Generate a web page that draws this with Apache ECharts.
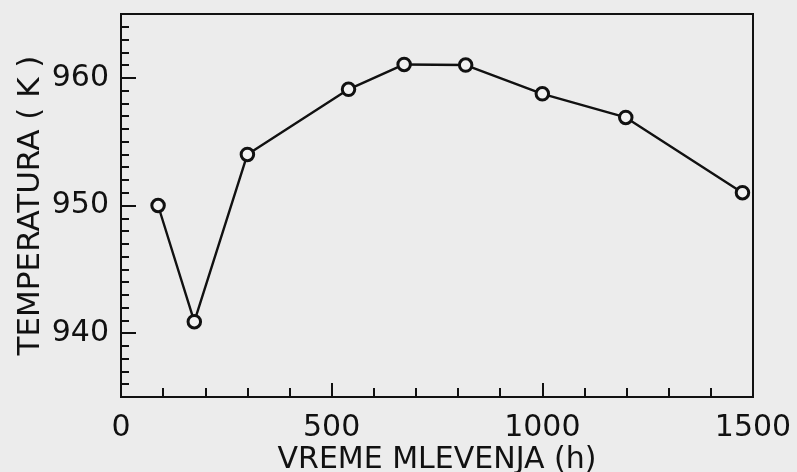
<!DOCTYPE html>
<html>
<head>
<meta charset="utf-8">
<script src="https://cdn.jsdelivr.net/npm/echarts@6/dist/echarts.min.js"></script>
<style>
  html, body { margin: 0; padding: 0; background: #ececec; }
  #chart { width: 797px; height: 472px; }
</style>
</head>
<body>
<div id="chart"></div>
<script>
// Milling time (h) and temperature (K)
const hours = [88, 174, 300, 540, 672, 818, 1000, 1198, 1475];
const temps = [950.0, 940.9, 954.0, 959.1, 961.05, 961.0, 958.75, 956.9, 951.0];
const yLabelValues = [940, 950, 960];
const xLabelValues = [0, 500, 1000, 1500];

const ink = '#111111';
const font = 'DejaVu Sans';

const points = hours.map((h, i) => [h, temps[i]]);
const plain = v => String(v);

const gridLeft = 121, gridRight = 44, chartWidth = 797;
const plotWidth = chartWidth - gridLeft - gridRight;

const chart = echarts.init(document.getElementById('chart'), null, { renderer: 'canvas' });
chart.setOption({
  backgroundColor: '#ececec',
  animation: false,
  grid: {
    left: gridLeft, right: gridRight, top: 14, bottom: 75,
    outerBoundsMode: 'none',
    show: true, borderColor: ink, borderWidth: 2, backgroundColor: 'transparent'
  },
  xAxis: {
    type: 'value',
    min: 0, max: 1500, interval: 500,
    name: 'VREME MLEVENJA (h)',
    nameLocation: 'middle',
    nameMoveOverlap: false,
    nameGap: 48,
    nameTextStyle: { fontFamily: font, fontSize: 30, color: ink },
    axisLine: { show: true, lineStyle: { color: ink, width: 2 } },
    axisTick: { show: true, inside: true, length: 14, lineStyle: { color: ink, width: 2 } },
    minorTick: { show: true, splitNumber: 5, length: 9, lineStyle: { color: ink, width: 2 } },
    axisLabel: { customValues: xLabelValues, formatter: plain, fontFamily: font, fontSize: 30, color: ink, margin: 16 },
    splitLine: { show: false }
  },
  yAxis: [
    {
      type: 'value',
      min: 935, max: 965, interval: 1,
      name: 'TEMPERATURA ( K )',
      nameLocation: 'middle',
      nameMoveOverlap: false,
      nameRotate: 90,
      nameGap: 75,
      nameTextStyle: { fontFamily: font, fontSize: 31, color: ink },
      axisLine: { show: true, lineStyle: { color: ink, width: 2 } },
      axisTick: { show: true, inside: true, length: 8, lineStyle: { color: ink, width: 2 } },
      axisLabel: { customValues: yLabelValues, formatter: plain, fontFamily: font, fontSize: 30, color: ink, margin: 12 },
      splitLine: { show: false }
    },
    {
      // longer ticks at the labelled temperatures: a right-hand axis shifted
      // onto the left edge, its outward ticks pointing into the plot
      type: 'value',
      position: 'right',
      offset: -plotWidth,
      min: 935, max: 965, interval: 1,
      axisLine: { show: false },
      axisTick: { show: true, inside: false, length: 15, customValues: yLabelValues, lineStyle: { color: ink, width: 2 } },
      axisLabel: { show: false },
      splitLine: { show: false }
    }
  ],
  series: [{
    type: 'line',
    data: points,
    xAxisIndex: 0,
    yAxisIndex: 0,
    symbol: 'circle',
    symbolSize: 12.5,
    lineStyle: { color: ink, width: 2.4 },
    itemStyle: { color: '#f2f2f2', borderColor: ink, borderWidth: 3 },
    z: 5
  }]
});
</script>
</body>
</html>
